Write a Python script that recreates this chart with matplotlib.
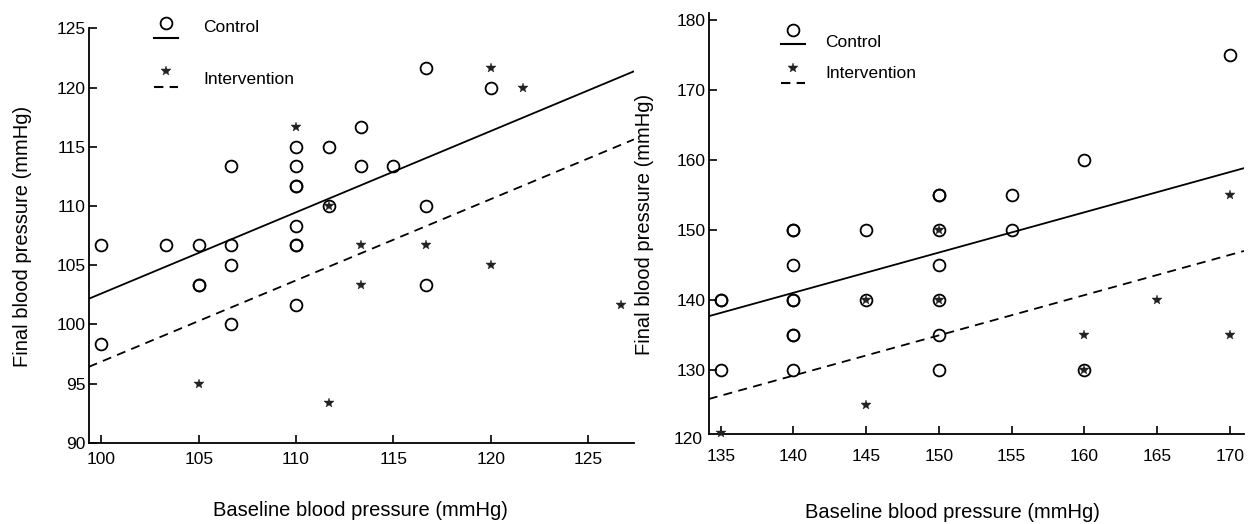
import numpy as np
import matplotlib
matplotlib.use("Agg")
import matplotlib.pyplot as plt
from matplotlib.lines import Line2D

plt.rcParams['font.family'] = ['Liberation Sans', 'DejaVu Sans']

# Left panel data (baseline vs final)
leftControlX = [100, 100, 103.33, 105, 105, 105, 106.67, 106.67, 106.67, 106.67,
                110, 110, 110, 110, 110, 110, 110, 110, 111.67, 111.67,
                113.33, 113.33, 115, 116.67, 116.67, 116.67, 120]
leftControlY = [106.67, 98.33, 106.67, 106.67, 103.33, 103.33, 113.33, 106.67, 105, 100,
                115, 113.33, 111.67, 111.67, 108.33, 106.67, 106.67, 101.67, 115, 110,
                116.67, 113.33, 113.33, 121.67, 110, 103.33, 120]
leftInterX = [105, 110, 111.67, 111.67, 113.33, 113.33, 116.67, 120, 120, 121.67, 126.67]
leftInterY = [95, 116.67, 110, 93.33, 106.67, 103.33, 106.67, 121.67, 105, 120, 101.67]

# fitted lines: intercept, slope
leftControlFit = [34.0, 0.686]
leftInterFit = [28.25, 0.686]

# Right panel data
rightControlX = [135, 135, 135, 140, 140, 140, 140, 140, 140, 140, 140,
                 145, 145, 150, 150, 150, 150, 150, 150, 150,
                 155, 155, 160, 160, 170]
rightControlY = [140, 140, 130, 150, 150, 145, 140, 140, 135, 135, 130,
                 150, 140, 155, 155, 150, 145, 140, 135, 130,
                 155, 150, 160, 130, 175]
rightInterX = [135, 145, 145, 150, 150, 160, 160, 165, 170, 170]
rightInterY = [121, 140, 125, 150, 140, 135, 130, 140, 155, 135]

rightControlFit = [60.55, 0.575]
rightInterFit = [48.71, 0.575]

leftYTicks = [90, 95, 100, 105, 110, 115, 120, 125]
leftXTicks = [100, 105, 110, 115, 120, 125]
rightYTicks = [130, 140, 150, 160, 170, 180]
rightXTicks = [135, 140, 145, 150, 155, 160, 165, 170]

W, H = 1249, 524
fig = plt.figure(figsize=(W / 100, H / 100), dpi=100)


def px(x0, y0, x1, y1):
    # pixel box -> figure fraction [left, bottom, width, height]
    return [x0 / W, 1 - y1 / H, (x1 - x0) / W, (y1 - y0) / H]


def styleAxes(ax):
    ax.spines['top'].set_visible(False)
    ax.spines['right'].set_visible(False)
    for s in ['left', 'bottom']:
        ax.spines[s].set_linewidth(1.3)
    ax.tick_params(direction='in', length=6, width=1.2, labelsize=12.5)
    ax.tick_params(axis='y', pad=2)


def drawPanel(ax, cx, cy, ix, iy, cfit, ifit, xlim):
    ax.plot(cx, cy, 'o', mfc='none', mec='black', ms=8.5, mew=1.3, clip_on=False, zorder=3)
    ax.plot(ix, iy, '*', color='#222222', ms=7, mew=0.3, clip_on=False, zorder=4)
    xs = np.array(xlim)
    ax.plot(xs, cfit[0] + cfit[1] * xs, '-', color='black', lw=1.3)
    ax.plot(xs, ifit[0] + ifit[1] * xs, '--', color='black', lw=1.3, dashes=(5, 3.5))
    ax.set_xlim(xlim)


def drawLegend(cxMark, circY, lineY, starY, dashY, textX, ctrlY, interY):
    tr = fig.transFigure
    fx = lambda v: v / W
    fy = lambda v: 1 - v / H
    fig.add_artist(Line2D([fx(cxMark)], [fy(circY)], marker='o', mfc='none', mec='black',
                          ms=8.5, mew=1.3, transform=tr))
    fig.add_artist(Line2D([fx(cxMark - 12), fx(cxMark + 12)], [fy(lineY)] * 2,
                          color='black', lw=1.5, transform=tr))
    fig.add_artist(Line2D([fx(cxMark)], [fy(starY)], marker='*', color='#222222',
                          ms=7, mew=0.3, transform=tr))
    fig.add_artist(Line2D([fx(cxMark - 12), fx(cxMark + 12)], [fy(dashY)] * 2,
                          color='black', lw=1.5, ls='--', dashes=(4.5, 3), transform=tr))
    fig.text(fx(textX), fy(ctrlY), 'Control', fontsize=12.5, va='center', ha='left')
    fig.text(fx(textX), fy(interY), 'Intervention', fontsize=12.5, va='center', ha='left')


# left panel
ax1 = fig.add_axes(px(88.7, 28.3, 634, 442.7))
drawPanel(ax1, leftControlX, leftControlY, leftInterX, leftInterY,
          leftControlFit, leftInterFit, (99.35, 127.36))
ax1.set_ylim(90, 125)
ax1.set_yticks(leftYTicks)
ax1.set_xticks(leftXTicks)
styleAxes(ax1)
ax1.tick_params(axis='x', pad=7)
fig.text(23 / W, 1 - 236 / H, 'Final blood pressure (mmHg)', rotation=90,
         fontsize=14.5, ha='center', va='center')
fig.text(360 / W, 1 - 510 / H, 'Baseline blood pressure (mmHg)', fontsize=14.5,
         ha='center', va='center')
drawLegend(166, 23, 37.7, 71, 87, 203, 28, 79)

# right panel
ax2 = fig.add_axes(px(708.7, 13.3, 1244, 433.7))
drawPanel(ax2, rightControlX, rightControlY, rightInterX, rightInterY,
          rightControlFit, rightInterFit, (134.17, 170.98))
ax2.set_ylim(120.9, 181)
ax2.set_yticks(rightYTicks)
ax2.set_xticks(rightXTicks)
styleAxes(ax2)
ax2.tick_params(axis='x', pad=11)
# the 120 label sits just under the axis in the original
ax2.text(-0.012, 120, '120', transform=ax2.get_yaxis_transform(), fontsize=12.5,
         ha='right', va='center', clip_on=False)
fig.text(645 / W, 1 - 224 / H, 'Final blood pressure (mmHg)', rotation=90,
         fontsize=14.5, ha='center', va='center')
fig.text(952 / W, 1 - 513 / H, 'Baseline blood pressure (mmHg)', fontsize=14.5,
         ha='center', va='center')
drawLegend(793, 30, 44, 68, 83, 825, 43, 73)

fig.savefig('out.png', dpi=100)
